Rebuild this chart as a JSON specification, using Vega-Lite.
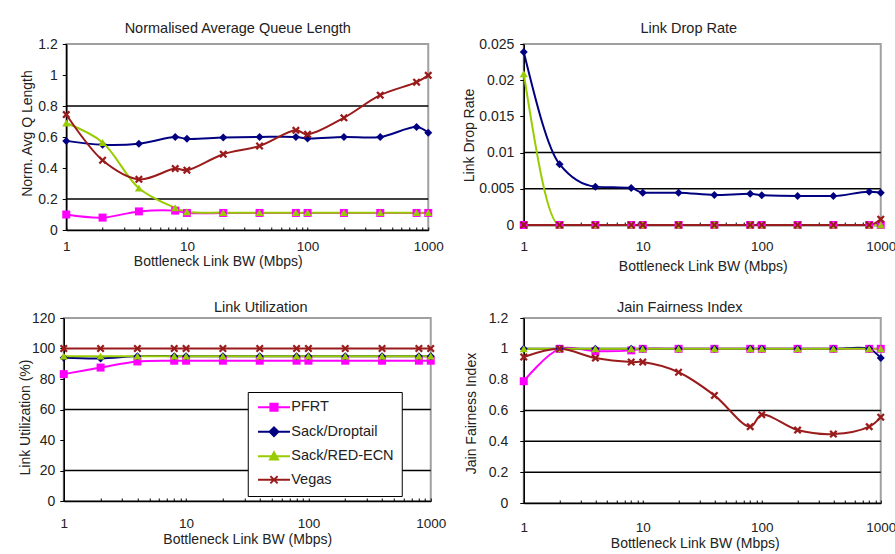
{
  "$schema": "https://vega.github.io/schema/vega-lite/v6.json",
  "background": "white",
  "padding": {"left": 17.75, "top": 19, "right": 5, "bottom": 5},
  "config": {
    "font": "Liberation Sans",
    "view": {"stroke": "#a0a0a0", "strokeWidth": 2},
    "axis": {"labelFont": "Liberation Sans", "labelFontSize": 14, "labelColor": "#222", "titleFont": "Liberation Sans", "titleFontSize": 14, "titleFontWeight": "normal", "titleColor": "#222", "domainColor": "black", "domainWidth": 1.5, "tickColor": "black", "grid": false},
    "axisX": {"labelFontSize": 13.5},
    "title": {"font": "Liberation Sans", "fontSize": 14.5, "fontWeight": "normal", "color": "#222", "frame": "group", "anchor": "middle"},
    "legend": {"labelFont": "Liberation Sans"}
  },
  "datasets": {
    "perf": [
      {"bw": 1, "series": "PFRT", "qlen": 0.10, "drop": 0, "util": 83.2, "jain": 0.79},
      {"bw": 2, "series": "PFRT", "qlen": 0.08, "drop": 0, "util": 87.5, "jain": 1.0},
      {"bw": 4, "series": "PFRT", "qlen": 0.12, "drop": 0, "util": 91.5, "jain": 0.985},
      {"bw": 8, "series": "PFRT", "qlen": 0.125, "drop": 0, "util": 92, "jain": 0.99},
      {"bw": 10, "series": "PFRT", "qlen": 0.11, "drop": 0, "util": 92, "jain": 1.0},
      {"bw": 20, "series": "PFRT", "qlen": 0.11, "drop": 0, "util": 92, "jain": 1.0},
      {"bw": 40, "series": "PFRT", "qlen": 0.11, "drop": 0, "util": 92, "jain": 1.0},
      {"bw": 80, "series": "PFRT", "qlen": 0.11, "drop": 0, "util": 92, "jain": 1.0},
      {"bw": 100, "series": "PFRT", "qlen": 0.11, "drop": 0, "util": 92, "jain": 1.0},
      {"bw": 200, "series": "PFRT", "qlen": 0.11, "drop": 0, "util": 92, "jain": 1.0},
      {"bw": 400, "series": "PFRT", "qlen": 0.11, "drop": 0, "util": 92, "jain": 1.0},
      {"bw": 800, "series": "PFRT", "qlen": 0.11, "drop": 0, "util": 92, "jain": 1.0},
      {"bw": 1000, "series": "PFRT", "qlen": 0.11, "drop": 0, "util": 92, "jain": 1.0},
      {"bw": 1, "series": "Sack/Droptail", "qlen": 0.575, "drop": 0.0239, "util": 94, "jain": 1.0},
      {"bw": 2, "series": "Sack/Droptail", "qlen": 0.55, "drop": 0.0084, "util": 93.5, "jain": 1.0},
      {"bw": 4, "series": "Sack/Droptail", "qlen": 0.557, "drop": 0.0053, "util": 95, "jain": 1.0},
      {"bw": 8, "series": "Sack/Droptail", "qlen": 0.60, "drop": 0.0051, "util": 95, "jain": 1.0},
      {"bw": 10, "series": "Sack/Droptail", "qlen": 0.588, "drop": 0.00446, "util": 95, "jain": 1.0},
      {"bw": 20, "series": "Sack/Droptail", "qlen": 0.596, "drop": 0.00446, "util": 95, "jain": 1.0},
      {"bw": 40, "series": "Sack/Droptail", "qlen": 0.60, "drop": 0.00414, "util": 95, "jain": 1.0},
      {"bw": 80, "series": "Sack/Droptail", "qlen": 0.60, "drop": 0.0043, "util": 95, "jain": 1.0},
      {"bw": 100, "series": "Sack/Droptail", "qlen": 0.59, "drop": 0.0041, "util": 95, "jain": 1.0},
      {"bw": 200, "series": "Sack/Droptail", "qlen": 0.60, "drop": 0.0040, "util": 95, "jain": 1.0},
      {"bw": 400, "series": "Sack/Droptail", "qlen": 0.60, "drop": 0.0040, "util": 95, "jain": 1.0},
      {"bw": 800, "series": "Sack/Droptail", "qlen": 0.664, "drop": 0.0046, "util": 95, "jain": 1.0},
      {"bw": 1000, "series": "Sack/Droptail", "qlen": 0.628, "drop": 0.00446, "util": 95, "jain": 0.94},
      {"bw": 1, "series": "Sack/RED-ECN", "qlen": 0.69, "drop": 0.0209, "util": 95, "jain": 1.0},
      {"bw": 2, "series": "Sack/RED-ECN", "qlen": 0.565, "drop": 0, "util": 95, "jain": 1.0},
      {"bw": 4, "series": "Sack/RED-ECN", "qlen": 0.27, "drop": 0, "util": 95, "jain": 1.0},
      {"bw": 8, "series": "Sack/RED-ECN", "qlen": 0.143, "drop": 0, "util": 95, "jain": 1.0},
      {"bw": 10, "series": "Sack/RED-ECN", "qlen": 0.118, "drop": 0, "util": 95, "jain": 1.0},
      {"bw": 20, "series": "Sack/RED-ECN", "qlen": 0.112, "drop": 0, "util": 95, "jain": 1.0},
      {"bw": 40, "series": "Sack/RED-ECN", "qlen": 0.112, "drop": 0, "util": 95, "jain": 1.0},
      {"bw": 80, "series": "Sack/RED-ECN", "qlen": 0.112, "drop": 0, "util": 95, "jain": 1.0},
      {"bw": 100, "series": "Sack/RED-ECN", "qlen": 0.112, "drop": 0, "util": 95, "jain": 1.0},
      {"bw": 200, "series": "Sack/RED-ECN", "qlen": 0.112, "drop": 0, "util": 95, "jain": 1.0},
      {"bw": 400, "series": "Sack/RED-ECN", "qlen": 0.112, "drop": 0, "util": 95, "jain": 1.0},
      {"bw": 800, "series": "Sack/RED-ECN", "qlen": 0.112, "drop": 0, "util": 95, "jain": 1.0},
      {"bw": 1000, "series": "Sack/RED-ECN", "qlen": 0.112, "drop": 0, "util": 95, "jain": 1.0},
      {"bw": 1, "series": "Vegas", "qlen": 0.745, "drop": 0, "util": 100, "jain": 0.947},
      {"bw": 2, "series": "Vegas", "qlen": 0.45, "drop": 0, "util": 100, "jain": 1.0},
      {"bw": 4, "series": "Vegas", "qlen": 0.327, "drop": 0, "util": 100, "jain": 0.94},
      {"bw": 8, "series": "Vegas", "qlen": 0.396, "drop": 0, "util": 100, "jain": 0.914},
      {"bw": 10, "series": "Vegas", "qlen": 0.386, "drop": 0, "util": 100, "jain": 0.914},
      {"bw": 20, "series": "Vegas", "qlen": 0.489, "drop": 0, "util": 100, "jain": 0.848},
      {"bw": 40, "series": "Vegas", "qlen": 0.542, "drop": 0, "util": 100, "jain": 0.698},
      {"bw": 80, "series": "Vegas", "qlen": 0.643, "drop": 0, "util": 100, "jain": 0.495},
      {"bw": 100, "series": "Vegas", "qlen": 0.617, "drop": 0, "util": 100, "jain": 0.573},
      {"bw": 200, "series": "Vegas", "qlen": 0.724, "drop": 0, "util": 100, "jain": 0.473},
      {"bw": 400, "series": "Vegas", "qlen": 0.87, "drop": 0, "util": 100, "jain": 0.447},
      {"bw": 800, "series": "Vegas", "qlen": 0.954, "drop": 0, "util": 100, "jain": 0.495},
      {"bw": 1000, "series": "Vegas", "qlen": 0.998, "drop": 0.0008, "util": 100, "jain": 0.557}
    ]
  },
  "columns": 2,
  "bounds": "flush",
  "center": {"row": false, "column": true},
  "spacing": {"row": 88, "column": 93},
  "resolve": {"scale": {"color": "independent", "shape": "independent", "fill": "independent", "stroke": "independent"}, "legend": {"color": "independent", "shape": "independent", "fill": "independent", "stroke": "independent"}},
  "concat": [
    {
      "width": 362, "height": 186,
      "title": {"text": "Normalised Average Queue Length", "offset": 1, "dx": -9.5},
      "encoding": {
        "y": {"field": "qlen", "type": "quantitative", "scale": {"domain": [0, 1.2], "nice": false},
          "axis": {"title": "Norm. Avg Q Length", "values": [0, 0.2, 0.4, 0.6, 0.8, 1, 1.2], "format": ".1~f", "tickSize": 4, "labelPadding": 5, "titleX": -38.5, "titleY": 89, "titleBaseline": "middle"}}
      },
      "layer": [
        {
          "data": {"values": [{"qlen": 0.2}, {"qlen": 0.8}]},
          "mark": {"type": "rule", "color": "black", "strokeWidth": 1.5}
        },
        {
          "data": {"name": "perf"},
          "mark": {"type": "line", "interpolate": "catmull-rom", "strokeWidth": 2},
          "encoding": {
            "x": {"field": "bw", "type": "quantitative", "scale": {"type": "log", "domain": [1, 1000], "nice": false},
              "axis": {"title": "Bottleneck Link BW (Mbps)", "values": [1,2,3,4,5,6,7,8,9,10,20,30,40,50,60,70,80,90,100,200,300,400,500,600,700,800,900,1000], "labelExpr": "(datum.value==1||datum.value==10||datum.value==100||datum.value==1000) ? datum.value : ''", "labelOverlap": false, "labelFlush": false, "tickSize": -3, "labelPadding": 19, "labelBaseline": "middle", "titleX": 151.5, "titleY": 31, "titleBaseline": "middle"}},
            "color": {"field": "series", "type": "nominal", "scale": {"domain": ["PFRT", "Sack/Droptail", "Sack/RED-ECN", "Vegas"], "range": ["#ff00ff", "#000080", "#99cc00", "#9a1b1b"]}, "legend": null}
          }
        },
        {
          "data": {"name": "perf"},
          "mark": {"type": "point", "filled": true, "size": 64, "opacity": 1},
          "encoding": {
            "x": {"field": "bw", "type": "quantitative"},
            "color": {"field": "series", "type": "nominal", "legend": null},
            "shape": {"field": "series", "type": "nominal", "scale": {"domain": ["PFRT", "Sack/Droptail", "Sack/RED-ECN", "Vegas"], "range": ["square", "diamond", "triangle-up", "M-1,-0.6L-0.6,-1L0,-0.4L0.6,-1L1,-0.6L0.4,0L1,0.6L0.6,1L0,0.4L-0.6,1L-1,0.6L-0.4,0Z"]}, "legend": null}
          }
        }
      ]
    },
    {
      "width": 357, "height": 181,
      "title": {"text": "Link Drop Rate", "offset": 1, "dx": -13.5},
      "encoding": {
        "y": {"field": "drop", "type": "quantitative", "scale": {"domain": [0, 0.025], "nice": false},
          "axis": {"title": "Link Drop Rate", "values": [0, 0.005, 0.01, 0.015, 0.02, 0.025], "format": ".3~f", "tickSize": 4, "labelPadding": 6, "titleX": -54, "titleY": 91, "titleBaseline": "middle"}}
      },
      "layer": [
        {
          "data": {"values": [{"drop": 0.005}, {"drop": 0.01}]},
          "mark": {"type": "rule", "color": "black", "strokeWidth": 1.5}
        },
        {
          "data": {"name": "perf"},
          "mark": {"type": "line", "interpolate": "monotone", "strokeWidth": 2},
          "encoding": {
            "x": {"field": "bw", "type": "quantitative", "scale": {"type": "log", "domain": [1, 1000], "nice": false},
              "axis": {"title": "Bottleneck Link BW (Mbps)", "values": [1,2,3,4,5,6,7,8,9,10,20,30,40,50,60,70,80,90,100,200,300,400,500,600,700,800,900,1000], "labelExpr": "(datum.value==1||datum.value==10||datum.value==100||datum.value==1000) ? datum.value : ''", "labelOverlap": false, "labelFlush": false, "tickSize": -3, "labelPadding": 24, "labelBaseline": "middle", "titleX": 179, "titleY": 41, "titleBaseline": "middle"}},
            "color": {"field": "series", "type": "nominal", "scale": {"domain": ["PFRT", "Sack/Droptail", "Sack/RED-ECN", "Vegas"], "range": ["#ff00ff", "#000080", "#99cc00", "#9a1b1b"]}, "legend": null}
          }
        },
        {
          "data": {"name": "perf"},
          "mark": {"type": "point", "filled": true, "size": 64, "opacity": 1},
          "encoding": {
            "x": {"field": "bw", "type": "quantitative"},
            "color": {"field": "series", "type": "nominal", "legend": null},
            "shape": {"field": "series", "type": "nominal", "scale": {"domain": ["PFRT", "Sack/Droptail", "Sack/RED-ECN", "Vegas"], "range": ["square", "diamond", "triangle-up", "M-1,-0.6L-0.6,-1L0,-0.4L0.6,-1L1,-0.6L0.4,0L1,0.6L0.6,1L0,0.4L-0.6,1L-1,0.6L-0.4,0Z"]}, "legend": null}
          }
        }
      ]
    },
    {
      "width": 367, "height": 183,
      "title": {"text": "Link Utilization", "offset": -4, "dx": 13.5},
      "encoding": {
        "y": {"field": "util", "type": "quantitative", "scale": {"domain": [0, 120], "nice": false},
          "axis": {"title": "Link Utilization (%)", "values": [0, 20, 40, 60, 80, 100, 120], "format": "d", "tickSize": 4, "labelPadding": 5, "titleX": -38, "titleY": 99, "titleBaseline": "middle"}}
      },
      "layer": [
        {
          "data": {"values": [{"util": 20}, {"util": 60}]},
          "mark": {"type": "rule", "color": "black", "strokeWidth": 1.5}
        },
        {
          "data": {"name": "perf"},
          "mark": {"type": "line", "interpolate": "catmull-rom", "strokeWidth": 2},
          "encoding": {
            "x": {"field": "bw", "type": "quantitative", "scale": {"type": "log", "domain": [1, 1000], "nice": false},
              "axis": {"title": "Bottleneck Link BW (Mbps)", "values": [1,2,3,4,5,6,7,8,9,10,20,30,40,50,60,70,80,90,100,200,300,400,500,600,700,800,900,1000], "labelExpr": "(datum.value==1||datum.value==10||datum.value==100||datum.value==1000) ? datum.value : ''", "labelOverlap": false, "labelFlush": false, "tickSize": -3, "labelPadding": 25, "labelBaseline": "middle", "titleX": 183.5, "titleY": 38, "titleBaseline": "middle"}},
            "stroke": {"field": "series", "type": "nominal", "scale": {"domain": ["PFRT", "Sack/Droptail", "Sack/RED-ECN", "Vegas"], "range": ["#ff00ff", "#000080", "#99cc00", "#9a1b1b"]}}
          }
        },
        {
          "data": {"name": "perf"},
          "transform": [{"filter": "datum.series == 'PFRT'"}],
          "mark": {"type": "point", "filled": true, "size": 64, "opacity": 1, "shape": "square", "color": "#ff00ff"},
          "encoding": {"x": {"field": "bw", "type": "quantitative"}}
        },
        {
          "data": {"name": "perf"},
          "transform": [{"filter": "datum.series == 'Sack/Droptail'"}],
          "mark": {"type": "point", "filled": true, "size": 64, "opacity": 1, "shape": "diamond", "color": "#000080"},
          "encoding": {"x": {"field": "bw", "type": "quantitative"}}
        },
        {
          "data": {"name": "perf"},
          "transform": [{"filter": "datum.series == 'Sack/RED-ECN'"}],
          "mark": {"type": "point", "filled": true, "size": 64, "opacity": 1, "shape": "triangle-up", "color": "#99cc00"},
          "encoding": {"x": {"field": "bw", "type": "quantitative"}}
        },
        {
          "data": {"name": "perf"},
          "transform": [{"filter": "datum.series == 'Vegas'"}],
          "mark": {"type": "point", "filled": true, "size": 64, "opacity": 1, "shape": "M-1,-0.6L-0.6,-1L0,-0.4L0.6,-1L1,-0.6L0.4,0L1,0.6L0.6,1L0,0.4L-0.6,1L-1,0.6L-0.4,0Z", "color": "#9a1b1b"},
          "encoding": {"x": {"field": "bw", "type": "quantitative"}}
        },
        {
          "data": {"name": "perf"},
          "mark": {"type": "point", "filled": true, "opacity": 0},
          "encoding": {
            "x": {"field": "bw", "type": "quantitative"},
            "fill": {"field": "series", "type": "nominal", "scale": {"domain": ["PFRT", "Sack/Droptail", "Sack/RED-ECN", "Vegas"], "range": ["#ff00ff", "#000080", "#99cc00", "#9a1b1b"]},
              "legend": {"title": null, "orient": "none", "legendX": 184, "legendY": 74, "strokeColor": "black", "fillColor": "white", "padding": 8, "rowPadding": 7.5, "symbolSize": 64, "symbolOffset": 11, "symbolStrokeWidth": 2, "symbolOpacity": 1, "labelFontSize": 14.5, "labelColor": "#222", "labelOffset": 10}},
            "stroke": {"field": "series", "type": "nominal",
              "legend": {"title": null, "orient": "none", "legendX": 184, "legendY": 74, "strokeColor": "black", "fillColor": "white", "padding": 8, "rowPadding": 7.5, "symbolSize": 64, "symbolOffset": 11, "symbolStrokeWidth": 2, "symbolOpacity": 1, "labelFontSize": 14.5, "labelColor": "#222", "labelOffset": 10}},
            "shape": {"field": "series", "type": "nominal", "scale": {"domain": ["PFRT", "Sack/Droptail", "Sack/RED-ECN", "Vegas"], "range": ["M-4,0L4,0M-0.9,-0.9L0.9,-0.9L0.9,0.9L-0.9,0.9Z", "M-4,0L4,0M0,-1.1L1.1,0L0,1.1L-1.1,0Z", "M-4,0L4,0M0,-1L1,0.8L-1,0.8Z", "M-4,0L4,0M-0.9,-0.9L0.9,0.9M0.9,-0.9L-0.9,0.9"]},
              "legend": {"title": null, "orient": "none", "legendX": 184, "legendY": 74, "strokeColor": "black", "fillColor": "white", "padding": 8, "rowPadding": 7.5, "symbolSize": 64, "symbolOffset": 11, "symbolStrokeWidth": 2, "symbolOpacity": 1, "labelFontSize": 14.5, "labelColor": "#222", "labelOffset": 10}}
          }
        }
      ]
    },
    {
      "width": 357, "height": 185,
      "title": {"text": "Jain Fairness Index", "offset": -4, "dx": -22.5},
      "encoding": {
        "y": {"field": "jain", "type": "quantitative", "scale": {"domain": [0, 1.2], "nice": false},
          "axis": {"title": "Jain Fairness Index", "values": [0, 0.2, 0.4, 0.6, 0.8, 1, 1.2], "format": ".1~f", "tickSize": 4, "labelPadding": 12, "titleX": -52, "titleY": 95, "titleBaseline": "middle"}}
      },
      "layer": [
        {
          "data": {"values": [{"jain": 0.2}, {"jain": 0.4}, {"jain": 0.6}]},
          "mark": {"type": "rule", "color": "black", "strokeWidth": 1.5}
        },
        {
          "data": {"name": "perf"},
          "mark": {"type": "line", "interpolate": "catmull-rom", "strokeWidth": 2},
          "encoding": {
            "x": {"field": "bw", "type": "quantitative", "scale": {"type": "log", "domain": [1, 1000], "nice": false},
              "axis": {"title": "Bottleneck Link BW (Mbps)", "values": [1,2,3,4,5,6,7,8,9,10,20,30,40,50,60,70,80,90,100,200,300,400,500,600,700,800,900,1000], "labelExpr": "(datum.value==1||datum.value==10||datum.value==100||datum.value==1000) ? datum.value : ''", "labelOverlap": false, "labelFlush": false, "tickSize": -3, "labelPadding": 27, "labelBaseline": "middle", "titleX": 171, "titleY": 40, "titleBaseline": "middle"}},
            "color": {"field": "series", "type": "nominal", "scale": {"domain": ["PFRT", "Sack/Droptail", "Sack/RED-ECN", "Vegas"], "range": ["#ff00ff", "#000080", "#99cc00", "#9a1b1b"]}, "legend": null}
          }
        },
        {
          "data": {"name": "perf"},
          "mark": {"type": "point", "filled": true, "size": 64, "opacity": 1},
          "encoding": {
            "x": {"field": "bw", "type": "quantitative"},
            "color": {"field": "series", "type": "nominal", "legend": null},
            "shape": {"field": "series", "type": "nominal", "scale": {"domain": ["PFRT", "Sack/Droptail", "Sack/RED-ECN", "Vegas"], "range": ["square", "diamond", "triangle-up", "M-1,-0.6L-0.6,-1L0,-0.4L0.6,-1L1,-0.6L0.4,0L1,0.6L0.6,1L0,0.4L-0.6,1L-1,0.6L-0.4,0Z"]}, "legend": null}
          }
        }
      ]
    }
  ]
}
